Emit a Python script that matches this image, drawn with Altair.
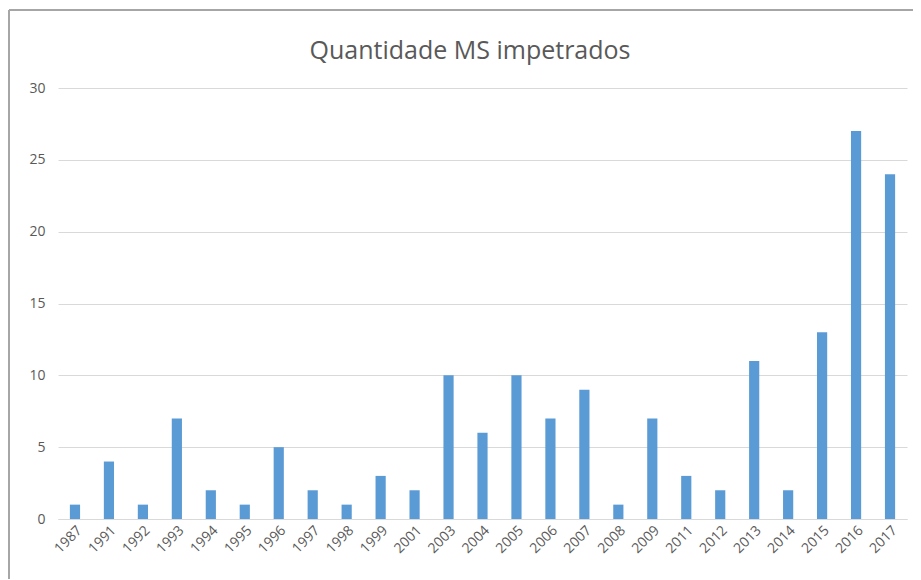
import altair as alt
import pandas as pd

anos = ["1987", "1991", "1992", "1993", "1994", "1995", "1996", "1997", "1998", "1999",
        "2001", "2003", "2004", "2005", "2006", "2007", "2008", "2009",
        "2011", "2012", "2013", "2014", "2015", "2016", "2017"]
quantidade = [1, 4, 1, 7, 2, 1, 5, 2, 1, 3,
              2, 10, 6, 10, 7, 9, 1, 7,
              3, 2, 11, 2, 13, 27, 24]
titulo = "Quantidade MS impetrados"

df = pd.DataFrame({"ano": anos, "qtd": quantidade})

W, H = 849, 431

bars = alt.Chart(df).mark_bar(color="#5b9bd5").encode(
    x=alt.X("ano:N", sort=anos, title=None,
            scale=alt.Scale(paddingInner=0.7, paddingOuter=0.35),
            axis=alt.Axis(labelAngle=-45, labelFontSize=14, labelColor="#595959",
                          labelFont="Open Sans", ticks=False, domainColor="#d9d9d9",
                          labelPadding=4)),
    y=alt.Y("qtd:Q", title=None,
            scale=alt.Scale(domain=[0, 30]),
            axis=alt.Axis(values=[0, 5, 10, 15, 20, 25, 30], labelFontSize=14,
                          labelColor="#595959", labelFont="Open Sans", ticks=False,
                          domain=False, gridColor="#d9d9d9", labelPadding=13)),
)

frame_v = alt.Chart(df).mark_rule(color="#a6a6a6", strokeWidth=1.5).encode(
    x=alt.value(-49), y=alt.value(-78), y2=alt.value(520))
frame_h = alt.Chart(df).mark_rule(color="#a6a6a6", strokeWidth=1.5).encode(
    x=alt.value(-49), x2=alt.value(900), y=alt.value(-78))

title_mark = alt.Chart(pd.DataFrame({"t": [titulo]})).mark_text(
    fontSize=25, font="Open Sans", color="#595959", align="center", baseline="middle"
).encode(text="t:N", x=alt.value(412), y=alt.value(-37))

chart = alt.layer(frame_v, frame_h, title_mark, bars).properties(
    width=W, height=H,
    autosize=alt.AutoSizeParams(type="none"),
    padding={"left": 50, "top": 80, "right": 6, "bottom": 60},
).configure_view(stroke=None)

chart.save("out.html", embed_options={"renderer": "svg", "actions": False})
